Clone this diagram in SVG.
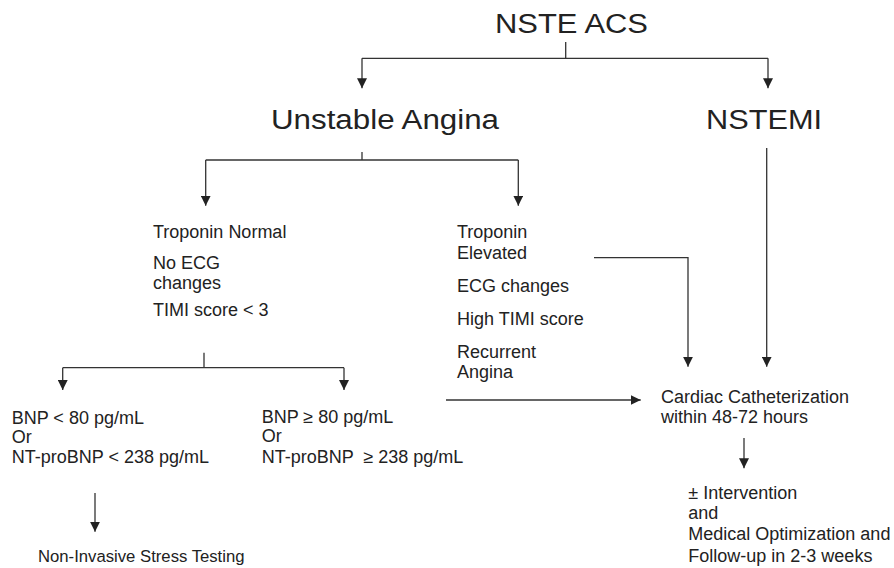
<svg xmlns="http://www.w3.org/2000/svg" width="894" height="568" viewBox="0 0 894 568">
<style>
  text { font-family: "Liberation Sans", Arial, sans-serif; fill: #222; }
  .big { font-size: 27px; }
  .sm { font-size: 18px; }
  .ln { fill: none; stroke: #333; stroke-width: 1.3; }
</style>
<defs>
  <marker id="ah" markerUnits="userSpaceOnUse" markerWidth="10" markerHeight="10" refX="10" refY="5" orient="auto">
    <path d="M0,0 L10,5 L0,10 z" fill="#222"/>
  </marker>
</defs>
<rect width="894" height="568" fill="#fff"/>

<g id="connectors">
  <path class="ln" d="M565.7,42 V58.3"/>
  <path class="ln" d="M362,58.3 H768"/>
  <path class="ln" d="M362,58.3 V88.3" marker-end="url(#ah)"/>
  <path class="ln" d="M768,58.3 V88.3" marker-end="url(#ah)"/>

  <path class="ln" d="M362,152 V160"/>
  <path class="ln" d="M205.7,160 H518.3"/>
  <path class="ln" d="M205.7,160 V205.7" marker-end="url(#ah)"/>
  <path class="ln" d="M518.3,160 V205.7" marker-end="url(#ah)"/>

  <path class="ln" d="M204,352.7 V367.7"/>
  <path class="ln" d="M62.7,367.7 H344"/>
  <path class="ln" d="M62.7,367.7 V390" marker-end="url(#ah)"/>
  <path class="ln" d="M344,367.7 V390" marker-end="url(#ah)"/>

  <path class="ln" d="M95,493 V531.7" marker-end="url(#ah)"/>

  <path class="ln" d="M594,257.7 H688 V366.7" marker-end="url(#ah)"/>
  <path class="ln" d="M766.7,148 V366.7" marker-end="url(#ah)"/>
  <path class="ln" d="M446,400 H640.7" marker-end="url(#ah)"/>
  <path class="ln" d="M744,438 V468.3" marker-end="url(#ah)"/>
</g>

<g id="nste-acs"><text class="big" x="495" y="33" textLength="153" lengthAdjust="spacingAndGlyphs">NSTE ACS</text></g>
<g id="unstable-angina"><text class="big" x="271" y="129" textLength="228" lengthAdjust="spacingAndGlyphs">Unstable Angina</text></g>
<g id="nstemi"><text class="big" x="706" y="129" textLength="116" lengthAdjust="spacingAndGlyphs">NSTEMI</text></g>

<g id="low-risk">
  <text class="sm" x="153" y="237.7">Troponin Normal</text>
  <text class="sm" x="153" y="269">No ECG</text>
  <text class="sm" x="153" y="289">changes</text>
  <text class="sm" x="153" y="316">TIMI score &lt; 3</text>
</g>

<g id="high-risk">
  <text class="sm" x="457" y="237.5">Troponin</text>
  <text class="sm" x="457" y="259.3">Elevated</text>
  <text class="sm" x="457" y="291.7">ECG changes</text>
  <text class="sm" x="457" y="325">High TIMI score</text>
  <text class="sm" x="457" y="357.7">Recurrent</text>
  <text class="sm" x="457" y="378">Angina</text>
</g>

<g id="bnp-low">
  <text class="sm" x="11.7" y="423.5">BNP &lt; 80 pg/mL</text>
  <text class="sm" x="11.7" y="442.5">Or</text>
  <text class="sm" x="11.7" y="463">NT-proBNP &lt; 238 pg/mL</text>
</g>

<g id="bnp-high">
  <text class="sm" x="261.7" y="422.7">BNP ≥ 80 pg/mL</text>
  <text class="sm" x="261.7" y="442.3">Or</text>
  <text class="sm" x="261.7" y="462.7" xml:space="preserve">NT-proBNP  ≥ 238 pg/mL</text>
</g>

<g id="stress-testing">
  <text x="38" y="561.7" style="font-size:16.7px">Non-Invasive Stress Testing</text>
</g>

<g id="cath">
  <text class="sm" x="661" y="402.7">Cardiac Catheterization</text>
  <text class="sm" x="661" y="423.3">within 48-72 hours</text>
</g>

<g id="intervention">
  <text class="sm" x="688.3" y="498.5">± Intervention</text>
  <text class="sm" x="688.3" y="519.3">and</text>
  <text class="sm" x="688.3" y="540">Medical Optimization and</text>
  <text class="sm" x="688.3" y="561.5">Follow-up in 2-3 weeks</text>
</g>
</svg>
